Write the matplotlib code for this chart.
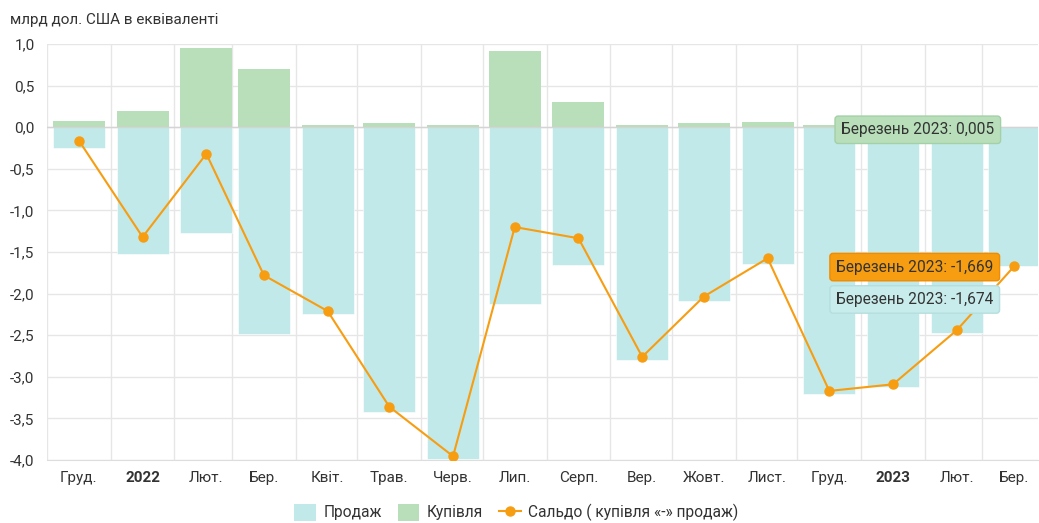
import numpy as np
import pandas as pd
import matplotlib

matplotlib.use("Agg")
import matplotlib.pyplot as plt
import matplotlib.dates as mdates
from matplotlib.patches import Patch
from matplotlib.lines import Line2D
from matplotlib.ticker import FuncFormatter

plt.rcParams["font.family"] = ["Roboto", "DejaVu Sans"]

# data (млрд дол. США)
month_labels = ["Груд.", "2022", "Лют.", "Бер.", "Квіт.", "Трав.", "Черв.", "Лип.",
                "Серп.", "Вер.", "Жовт.", "Лист.", "Груд.", "2023", "Лют.", "Бер."]
sales = [-0.25, -1.52, -1.27, -2.485, -2.25, -3.42, -3.99, -2.125,
         -1.655, -2.80, -2.09, -1.64, -3.205, -3.12, -2.47, -1.674]
purchases = [0.08, 0.196, 0.95, 0.695, 0.03, 0.05, 0.03, 0.915,
             0.306, 0.03, 0.045, 0.06, 0.024, 0.03, 0.03, 0.005]
saldo = [-0.16, -1.32, -0.32, -1.78, -2.21, -3.36, -3.955, -1.20,
         -1.335, -2.76, -2.035, -1.575, -3.17, -3.09, -2.44, -1.669]

months = pd.date_range("2021-12-01", periods=len(month_labels), freq="MS")
starts = mdates.date2num(months)
centers = starts + 15.5

c_sales = "#c2e9e9"
c_buy = "#b8dfba"
c_saldo = "#f79d12"
grid_c = "#e6e6e6"

fig = plt.figure(figsize=(10.39, 5.23), dpi=100)
ax = fig.add_axes([47 / 1039, 1 - 460 / 523, 991 / 1039, 416 / 523])

ax.bar(centers, sales, width=25.3, color=c_sales, edgecolor="white", linewidth=0.4, zorder=2)
ax.bar(centers, purchases, width=25.3, color=c_buy, linewidth=0, zorder=2)
ax.plot(centers, saldo, color=c_saldo, lw=1.5, marker="o", ms=6.5, zorder=4)
ax.axhline(0, color="#d4d4d4", lw=1, zorder=3)

ax.set_xlim(starts[0], mdates.date2num(pd.Timestamp("2023-03-28")))
ax.set_ylim(-4.0, 1.0)
ax.set_yticks(np.arange(-4.0, 1.01, 0.5))
ax.yaxis.set_major_formatter(FuncFormatter(lambda v, p: f"{v:.1f}".replace(".", ",")))

ax.set_xticks(centers)
ax.set_xticklabels(month_labels)
for lbl in ax.get_xticklabels():
    if lbl.get_text() in ("2022", "2023"):
        lbl.set_fontweight("bold")
ax.set_xticks(starts, minor=True)

ax.tick_params(axis="both", which="both", length=0, labelsize=11, colors="#333333")
ax.tick_params(axis="x", pad=8)
ax.tick_params(axis="y", pad=9)
ax.grid(axis="y", color=grid_c, lw=1, zorder=0)
ax.grid(axis="x", which="minor", color=grid_c, lw=1, zorder=0)
ax.grid(axis="x", which="major", visible=False)
for s in ["top", "right", "left"]:
    ax.spines[s].set_visible(False)
ax.spines["bottom"].set_color("#dddddd")

# tooltips
tips = [
    (purchases[-1], "#b8dfba", "#a3d0a6", (-20, -3)),
    (saldo[-1], "#f79d12", "#f08c00", (-21, -1)),
    (sales[-1], "#c8ebeb", "#b5dede", (-21, -33)),
]
for val, fc, ec, off in tips:
    ax.annotate(f"Березень 2023: {val:.3f}".replace(".", ","),
                xy=(centers[-1], val), xytext=off, textcoords="offset pixels",
                ha="right", va="center", fontsize=11.2, color="#333333", zorder=6,
                bbox=dict(boxstyle="round,pad=0.4,rounding_size=0.2", fc=fc, ec=ec, lw=1))

fig.text(10 / 1039, 1 - 20 / 523, "млрд дол. США в еквіваленті", fontsize=11,
         color="#333333", va="center", ha="left")

handles = [
    Patch(facecolor=c_sales, edgecolor="none", label="Продаж"),
    Patch(facecolor=c_buy, edgecolor="none", label="Купівля"),
    Line2D([0], [0], color=c_saldo, lw=1.5, marker="o", ms=6.5, label="Сальдо ( купівля «-» продаж)"),
]
fig.legend(handles=handles, loc="center", bbox_to_anchor=(0.497, 0.02), ncol=3, frameon=False,
           fontsize=11.2, handlelength=1.4, handleheight=1.3, columnspacing=1.0, handletextpad=0.5,
           labelcolor="#333333")

fig.savefig("out.png", dpi=100)
